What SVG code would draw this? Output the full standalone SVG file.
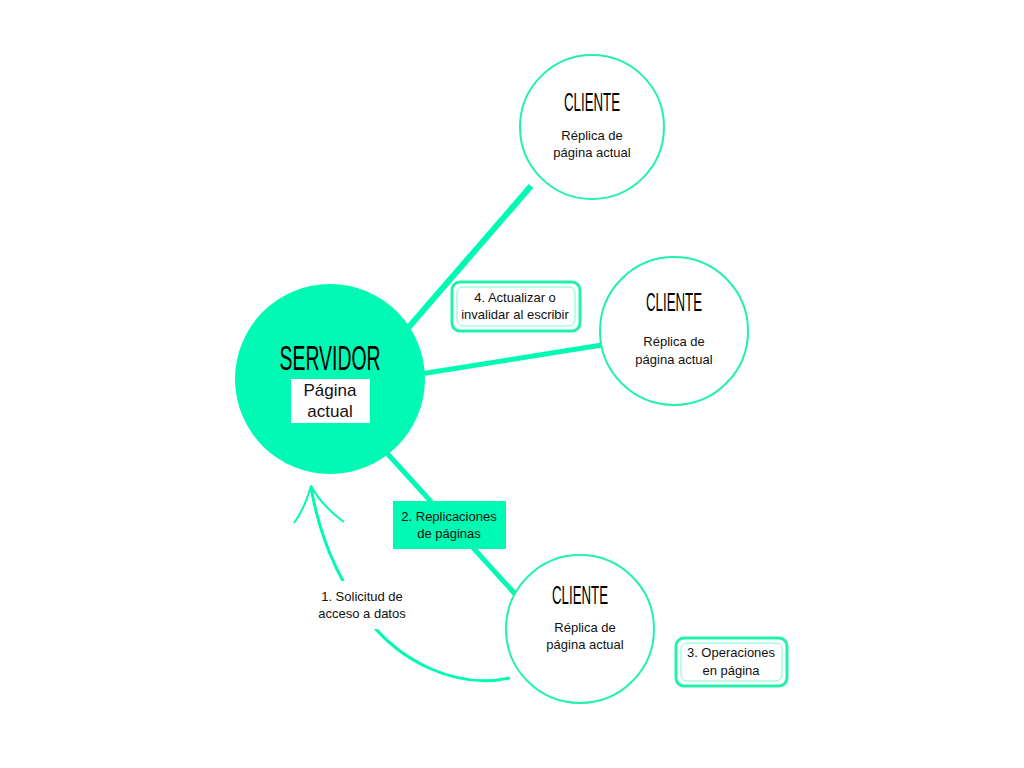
<svg xmlns="http://www.w3.org/2000/svg" width="1024" height="768" viewBox="0 0 1024 768">
<style>
.t{font-family:"Liberation Sans",Arial,sans-serif;font-size:13px;fill:#111;text-anchor:middle}
.big{font-family:"Liberation Sans",Arial,sans-serif;fill:#000;text-anchor:middle}
.cl{fill:#fff;stroke:#22F2A8;stroke-width:2}
.ln{stroke:#00FAB4;fill:none;stroke-linecap:butt}
</style>
<rect width="1024" height="768" fill="#fff"/>
<g id="connectors">
<line class="ln" x1="408" y1="328" x2="531" y2="186" stroke-width="6"/>
<line class="ln" x1="420" y1="374" x2="602" y2="345" stroke-width="5"/>
<line class="ln" x1="385" y1="451" x2="516" y2="595" stroke-width="5"/>
<path class="ln" d="M510,678 C455,690 400,660 370,622 S320,540 311,487" stroke-width="3" stroke-linecap="round"/>
<path class="ln" d="M294,523 Q304,510 311,486 Q322,506 344,522" stroke-width="2" stroke-linecap="round" stroke-linejoin="round"/>
</g>
<g id="servidor">
<circle cx="330" cy="379" r="95" fill="#00FAB4"/>
<text class="big" x="330" y="370" font-size="35" textLength="101" lengthAdjust="spacingAndGlyphs">SERVIDOR</text>
<rect x="291" y="379" width="79" height="44" fill="#fff"/>
<text class="t" x="330" y="396" style="font-size:17px">Página</text>
<text class="t" x="330" y="417" style="font-size:17px">actual</text>
</g>
<g id="cliente1">
<circle class="cl" cx="592" cy="127" r="72"/>
<text class="big" x="592" y="111" font-size="25" textLength="56" lengthAdjust="spacingAndGlyphs">CLIENTE</text>
<text class="t" x="592" y="140">Réplica de</text>
<text class="t" x="592" y="157">página actual</text>
</g>
<g id="cliente2">
<circle class="cl" cx="674" cy="331" r="74"/>
<text class="big" x="674" y="311" font-size="25" textLength="56" lengthAdjust="spacingAndGlyphs">CLIENTE</text>
<text class="t" x="674" y="346">Réplica de</text>
<text class="t" x="674" y="364">página actual</text>
</g>
<g id="cliente3">
<circle class="cl" cx="580" cy="629" r="74"/>
<text class="big" x="580" y="604" font-size="25" textLength="56" lengthAdjust="spacingAndGlyphs">CLIENTE</text>
<text class="t" x="585" y="632">Réplica de</text>
<text class="t" x="585" y="649">página actual</text>
</g>
<g id="label1">
<rect x="312" y="581" width="102" height="48" fill="#fff"/>
<text class="t" x="362" y="601">1. Solicitud de</text>
<text class="t" x="362" y="618">acceso a datos</text>
</g>
<g id="label2">
<rect x="393" y="501" width="113" height="48" fill="#00FAB4"/>
<text class="t" x="449" y="521">2. Replicaciones</text>
<text class="t" x="449" y="538">de páginas</text>
</g>
<g id="label4">
<rect x="452" y="282" width="128" height="49" rx="8" fill="#fff" stroke="#22F2A8" stroke-width="3"/>
<rect x="457" y="287" width="118" height="39" rx="6" fill="none" stroke="#7FF7CF" stroke-width="1"/>
<text class="t" x="515" y="302">4. Actualizar o</text>
<text class="t" x="515" y="319">invalidar al escribir</text>
</g>
<g id="label3">
<rect x="676" y="638" width="111" height="48" rx="8" fill="#fff" stroke="#22F2A8" stroke-width="3"/>
<rect x="681" y="643" width="101" height="38" rx="6" fill="none" stroke="#7FF7CF" stroke-width="1"/>
<text class="t" x="731" y="657">3. Operaciones</text>
<text class="t" x="731" y="675">en página</text>
</g>
</svg>
